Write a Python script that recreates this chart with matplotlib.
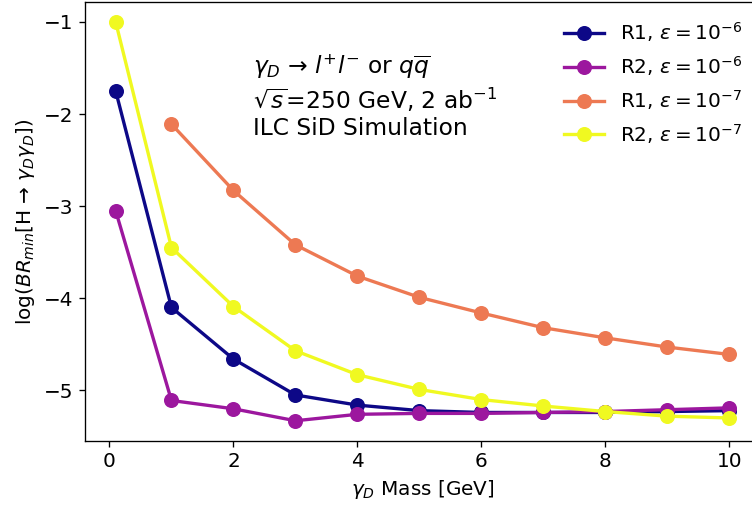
import matplotlib
matplotlib.use("Agg")
import matplotlib.pyplot as plt

mass = [0.1, 1, 2, 3, 4, 5, 6, 7, 8, 9, 10]
r1_e6 = [-1.75, -4.10, -4.66, -5.05, -5.16, -5.22, -5.24, -5.24, -5.24, -5.23, -5.22]
r2_e6 = [-3.05, -5.11, -5.20, -5.33, -5.26, -5.25, -5.25, -5.24, -5.23, -5.21, -5.19]
mass_r1_e7 = [1, 2, 3, 4, 5, 6, 7, 8, 9, 10]
r1_e7 = [-2.11, -2.83, -3.42, -3.76, -3.99, -4.16, -4.32, -4.43, -4.53, -4.61]
r2_e7 = [-1.00, -3.45, -4.09, -4.57, -4.83, -4.99, -5.10, -5.17, -5.23, -5.28, -5.30]

labels = [r'R1, $\varepsilon=10^{-6}$', r'R2, $\varepsilon=10^{-6}$',
          r'R1, $\varepsilon=10^{-7}$', r'R2, $\varepsilon=10^{-7}$']
colors = ['#0d0887', '#9c179e', '#ed7953', '#f0f921']

plt.rcParams['font.size'] = 12
fig = plt.figure(figsize=(752/120, 506/120), dpi=120)
ax = fig.add_axes([85/752, (506-440.7)/506, (760-85)/752, (440.7-2)/506])

ax.plot(mass, r1_e6, 'o-', color=colors[0], lw=2, ms=8, label=labels[0])
ax.plot(mass, r2_e6, 'o-', color=colors[1], lw=2, ms=8, label=labels[1])
ax.plot(mass_r1_e7, r1_e7, 'o-', color=colors[2], lw=2, ms=8, label=labels[2])
ax.plot(mass, r2_e7, 'o-', color=colors[3], lw=2, ms=8, label=labels[3])

ax.set_xlim(-0.395, 10.495)
ax.set_ylim(-5.5465, -0.7835)
ax.set_xlabel(r'$\gamma_D$ Mass [GeV]')
ax.set_ylabel('log($BR_{min}$[H → $\\gamma_D\\gamma_D$])')
ax.legend(loc='upper right', frameon=False)
ax.text(0.249, 0.885,
        '$\\gamma_D$ → $l^{+}l^{-}$ or $q\\overline{q}$' + '\n'
        + r'$\sqrt{s}$=250 GeV, 2 ab$^{-1}$' + '\n' + 'ILC SiD Simulation',
        transform=ax.transAxes, va='top', ha='left', fontsize=14)

fig.savefig('out.png', dpi=120)
